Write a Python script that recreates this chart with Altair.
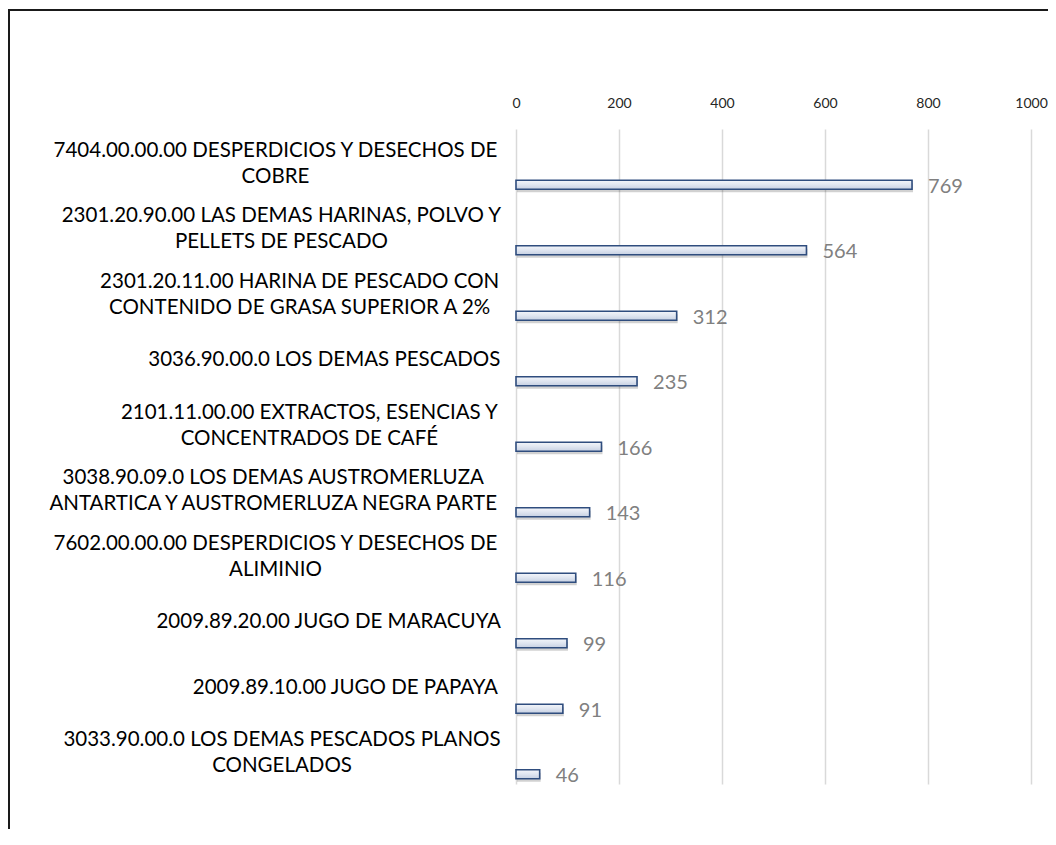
import altair as alt
import pandas as pd

# ---- data ----
label_line1 = [
    "7404.00.00.00 DESPERDICIOS Y DESECHOS DE",
    "2301.20.90.00 LAS DEMAS HARINAS, POLVO Y",
    "2301.20.11.00 HARINA DE PESCADO CON",
    "3036.90.00.0 LOS DEMAS PESCADOS",
    "2101.11.00.00 EXTRACTOS, ESENCIAS Y",
    "3038.90.09.0 LOS DEMAS AUSTROMERLUZA",
    "7602.00.00.00 DESPERDICIOS Y DESECHOS DE",
    "2009.89.20.00 JUGO DE MARACUYA",
    "2009.89.10.00 JUGO DE PAPAYA",
    "3033.90.00.0 LOS DEMAS PESCADOS PLANOS",
]
label_line2 = [
    "COBRE",
    "PELLETS DE PESCADO",
    "CONTENIDO DE GRASA SUPERIOR A 2%",
    "",
    "CONCENTRADOS DE CAFÉ",
    "ANTARTICA Y AUSTROMERLUZA NEGRA PARTE",
    "ALIMINIO",
    "",
    "",
    "CONGELADOS",
]
values = [769, 564, 312, 235, 166, 143, 116, 99, 91, 46]
tick_values = [0, 200, 400, 600, 800, 1000]

# ---- layout / style ----
W, H = 515, 655
FONT = "Lato"
CAT_FS = 20.5
LINE_H = 26
LABEL_GAP = 18          # px between label block and plot left edge
BAR_SHIFT = 23          # bars sit in the lower part of each band
PX_PER_UNIT = W / 1000.0

df = pd.DataFrame({"l1": label_line1, "l2": label_line2, "value": values})
df["cat"] = df["l1"]
order = list(df["cat"])

# rough text-width estimate (in em) from character classes of the font
CLASSES = [("[0-9]", 0.58), ("[.,]", 0.24), ("[ ]", 0.19), ("[IJ]", 0.30),
           ("[CDGHMNOQUW%]", 0.76), ("[EFLST]", 0.56)]
OTHER_W = 0.65


def em_expr(field):
    s = f"datum.{field}"
    counts = [(f"length(replace({s}, regexp('[^{pat[1:-1]}]','g'), ''))", w)
              for pat, w in CLASSES]
    parts = " + ".join(f"{c}*{w}" for c, w in counts)
    rest = f"(length({s}) - " + " - ".join(c for c, _ in counts) + ")"
    return f"({parts} + {rest}*{OTHER_W})"


base = alt.Chart(df)
xscale = alt.Scale(domain=[0, 1000], nice=False, zero=True)
xaxis = alt.Axis(orient="top", values=tick_values, format="d", grid=True,
                 gridColor="#d9d9d9", gridWidth=1.5, domain=False,
                 ticks=False, labelFont=FONT, labelFontSize=14,
                 labelFlush=False, labelOverlap=False,
                 labelColor="#262626", labelPadding=19, title=None)
yenc = alt.Y("cat:N", sort=order, axis=None,
             scale=alt.Scale(paddingInner=0, paddingOuter=0))

shadow = base.mark_bar(size=9, yOffset=BAR_SHIFT + 3, xOffset=1, color="#000000",
                       opacity=0.18).encode(
    x=alt.X("value:Q", scale=xscale, axis=xaxis), y=yenc)

grad = alt.Gradient(
    gradient="linear",
    stops=[alt.GradientStop(color="#f4f6fa", offset=0),
           alt.GradientStop(color="#dfe5f0", offset=0.5),
           alt.GradientStop(color="#c6d0e2", offset=1)],
    x1=0, x2=0, y1=0, y2=1)

bars = base.mark_bar(size=9, yOffset=BAR_SHIFT, color=grad, stroke="#2f4d7e",
                     strokeWidth=1.6).encode(
    x=alt.X("value:Q", scale=xscale, axis=xaxis), y=yenc)

value_text = base.mark_text(align="left", baseline="middle", dx=16,
                            yOffset=BAR_SHIFT + 2, font=FONT, fontSize=20,
                            color="#808080").encode(
    x=alt.X("value:Q", scale=xscale, axis=xaxis), y=yenc, text="value:Q")

labels_base = base.transform_calculate(
    w=f"max({em_expr('l1')}, {em_expr('l2')}) * {CAT_FS}",
    lines="datum.l2 == '' ? [datum.l1] : [datum.l1, datum.l2]",
).transform_calculate(
    cx=f"(-{LABEL_GAP} - datum.w/2) / {PX_PER_UNIT}"
)

cat_text_1 = labels_base.transform_filter("datum.l2 == ''").mark_text(
    align="center", baseline="middle", font=FONT, fontSize=CAT_FS,
    lineHeight=LINE_H, dy=2, color="#000000").encode(
    x=alt.X("cx:Q", scale=xscale, axis=xaxis), y=yenc, text="lines:N")

cat_text_2 = labels_base.transform_filter("datum.l2 != ''").mark_text(
    align="center", baseline="middle", font=FONT, fontSize=CAT_FS,
    lineHeight=LINE_H, dy=2 - LINE_H / 2, color="#000000").encode(
    x=alt.X("cx:Q", scale=xscale, axis=xaxis), y=yenc, text="lines:N")

frame_data = alt.Data(values=[{"k": 1}])
frame_top = alt.Chart(frame_data).mark_rule(color="#1a1a1a", strokeWidth=2).encode(
    x=alt.value(-508), x2=alt.value(540), y=alt.value(-119))
frame_left = alt.Chart(frame_data).mark_rule(color="#1a1a1a", strokeWidth=2).encode(
    x=alt.value(-507), y=alt.value(-120), y2=alt.value(720))

chart = alt.layer(shadow, bars, value_text, cat_text_1, cat_text_2,
                  frame_top, frame_left).properties(
    width=W, height=H,
    autosize=alt.AutoSizeParams(type="none"),
    padding={"left": 508, "top": 121, "right": 17, "bottom": 45},
    background="white",
).configure_view(stroke=None)

chart.save("out.html", embed_options={"renderer": "svg", "actions": False})
